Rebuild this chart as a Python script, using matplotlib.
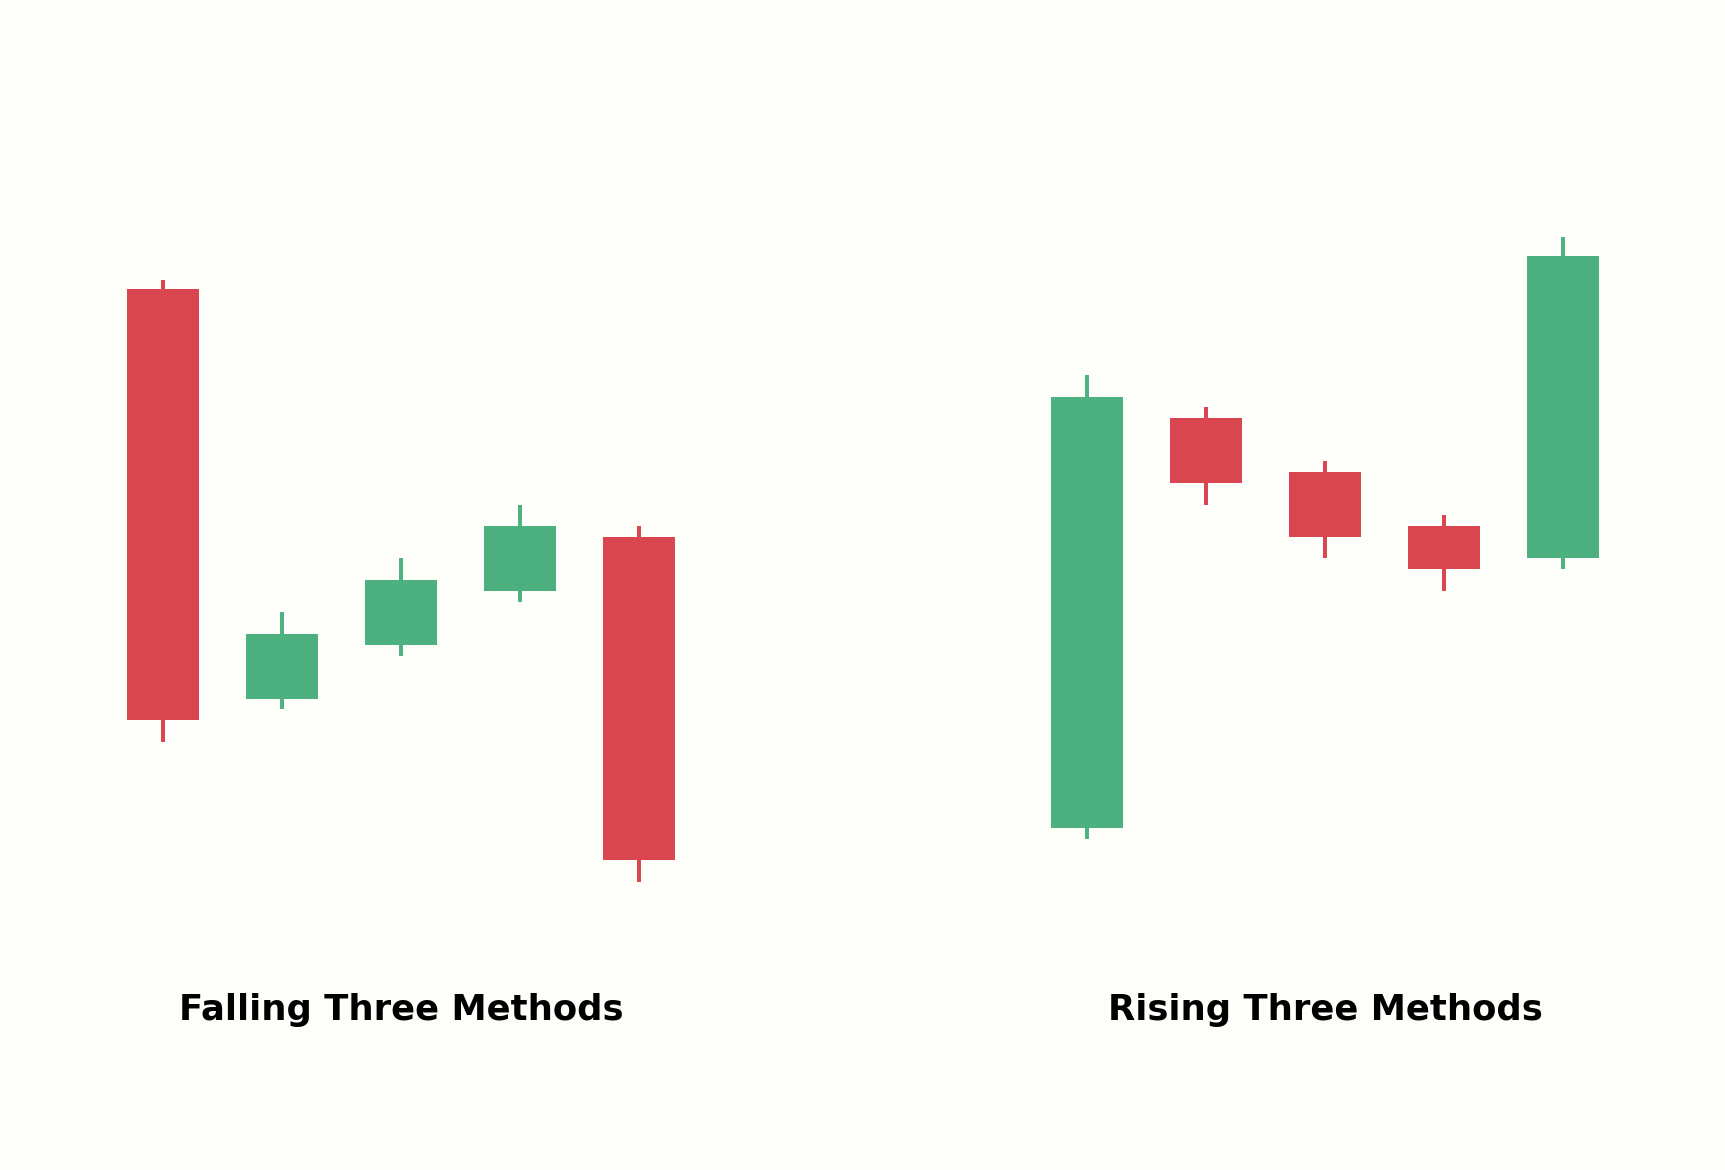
import matplotlib
matplotlib.use("Agg")
import matplotlib.pyplot as plt

# ---- data ----
pattern_names = ["Falling Three Methods", "Rising Three Methods"]

falling_open = [100.0, 81.0, 83.5, 86.0, 88.5]
falling_close = [80.0, 84.0, 86.5, 89.0, 73.5]
falling_high = [100.4, 85.0, 87.5, 90.0, 89.0]
falling_low = [79.0, 80.5, 83.0, 85.5, 72.5]

rising_open = [75.0, 94.0, 91.5, 89.0, 87.5]
rising_close = [95.0, 91.0, 88.5, 87.0, 101.5]
rising_high = [96.0, 94.5, 92.0, 89.5, 102.4]
rising_low = [74.5, 90.0, 87.5, 86.0, 87.0]

# ---- style ----
BG = "#FDFDF9"
UP = "#4DB07F"
DOWN = "#D94650"

fig = plt.figure(figsize=(11.5, 7.8), dpi=150, facecolor=BG)
W, H = 1725.0, 1170.0

ymax = 113.39
ymin = 59.15


def draw(ax, opens, closes, highs, lows, name):
    ax.set_facecolor(BG)
    xs = list(range(len(opens)))
    for x, o, c, h, l in zip(xs, opens, closes, highs, lows):
        col = UP if c >= o else DOWN
        ax.vlines(x, l, h, color=col, linewidth=1.9, zorder=1)
        ax.bar(x, c - o, bottom=o, width=0.6, color=col, zorder=2, linewidth=0)
    ax.set_xlim(-1, 5)
    ax.set_ylim(ymin, ymax)
    ax.text(2, 66.1, name, ha="center", va="baseline", fontsize=17,
            fontweight="bold", color="black", family="DejaVu Sans")
    ax.axis("off")


ax1 = fig.add_axes([44 / W, 0, 714 / W, 1])
ax2 = fig.add_axes([968 / W, 0, 714 / W, 1])
draw(ax1, falling_open, falling_close, falling_high, falling_low, pattern_names[0])
draw(ax2, rising_open, rising_close, rising_high, rising_low, pattern_names[1])

fig.savefig("out.png", dpi=150, facecolor=BG)
